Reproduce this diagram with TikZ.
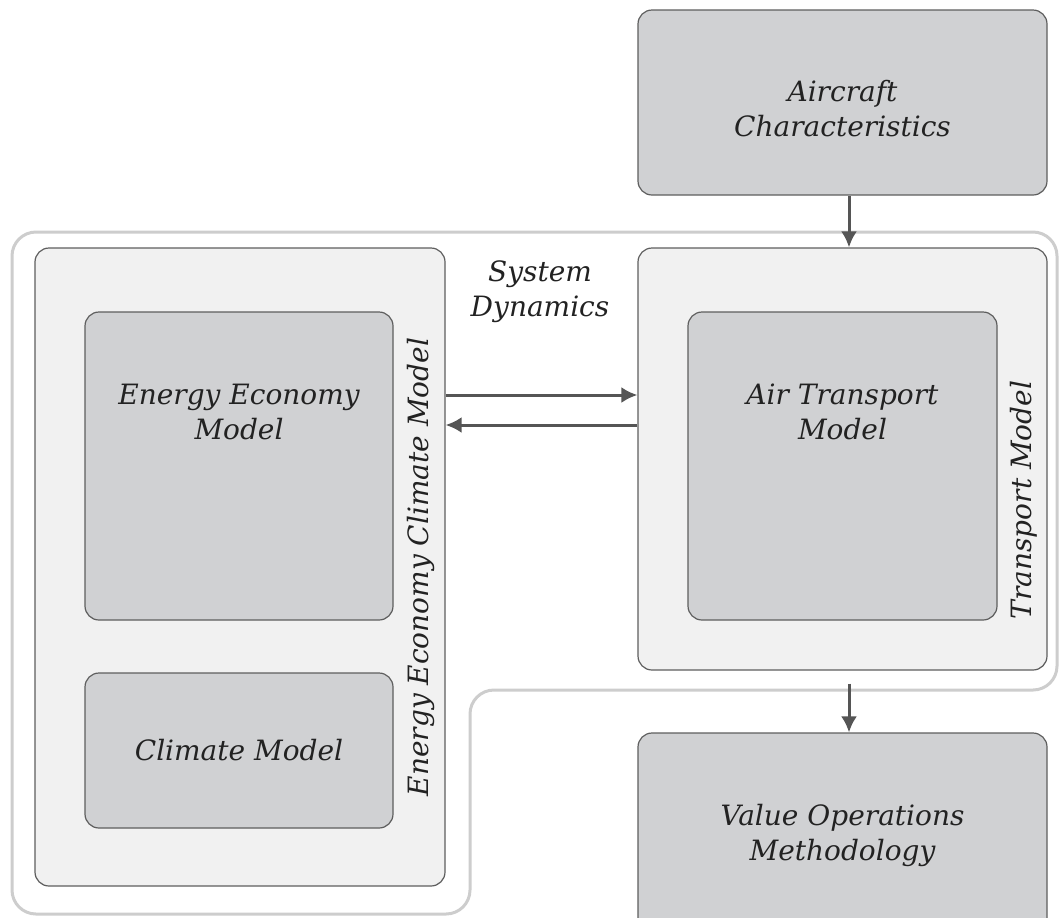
\documentclass[tikz,border=0pt]{standalone}
\usepackage{fontspec}
\setmainfont{DejaVu Serif}
\usetikzlibrary{calc}
\usetikzlibrary{arrows.meta}

\definecolor{boxdark}{HTML}{D0D1D3}
\definecolor{boxlight}{HTML}{F1F1F1}
\definecolor{boxedge}{HTML}{5E5E5E}
\definecolor{arrowgray}{HTML}{555555}
\definecolor{sysline}{HTML}{CDCDCD}
\definecolor{txtgray}{HTML}{222222}

\begin{document}
\begin{tikzpicture}[x=0.5pt,y=-0.5pt,
  every node/.style={font=\itshape\fontsize{14}{17.5}\selectfont, text=txtgray, align=center},
  box/.style={draw=boxedge, line width=0.6pt, rounded corners=7pt, inner sep=0pt},
  darkbox/.style={box, fill=boxdark},
  lightbox/.style={box, fill=boxlight},
  flow/.style={draw=arrowgray, line width=1.5pt, -{Latex[length=8pt,width=8pt]}}]
\useasboundingbox (0,0) rectangle (1059,917);
\clip (0,0) rectangle (1059,917);
% system dynamics outline
\draw[sysline, line width=1.5pt, rounded corners=12pt]
  (12,232) -- (1057,232) -- (1057,690) -- (470,690) -- (470,914) -- (12,914) -- cycle;
\node (sd) at (540,292) {System\\Dynamics};
% left side
\node[lightbox, minimum width=205pt, minimum height=319pt] (eec) at (240,567) {};
\node[darkbox, minimum width=154pt, minimum height=154pt] (eem) at (239,466) {};
\node[darkbox, minimum width=154pt, minimum height=77.5pt] (cm) at (239,750.5) {Climate Model};
\node (eemtxt) at (239,412) {Energy Economy\\Model};
\node[rotate=90] (eeclbl) at (421,567) {Energy Economy Climate Model};
% right side
\node[darkbox, minimum width=204.5pt, minimum height=92.5pt] (ac) at (842.5,102.5) {};
\node (actxt) at (842.5,109) {Aircraft\\Characteristics};
\node[lightbox, minimum width=204.5pt, minimum height=211pt] (tm) at (842.5,459) {};
\node[darkbox, minimum width=154.5pt, minimum height=154pt] (atm) at (842.5,466) {};
\node (atmtxt) at (842.5,412) {Air Transport\\Model};
\node[rotate=90] (tmlbl) at (1024,500) {Transport Model};
\node[darkbox, minimum width=204.5pt, minimum height=102pt] (vom) at (842.5,835) {Value Operations\\Methodology};
% connectors
\coordinate (vx) at (849,0);
\coordinate (ha) at (0,395);
\coordinate (hb) at (0,425);
\draw[flow] (ac.south -| vx) -- (tm.north -| vx);
\draw[flow, shorten <=6.5pt] (tm.south -| vx) -- (vom.north -| vx);
\draw[flow] (ha -| eec.east) -- (ha -| tm.west);
\draw[flow] (hb -| tm.west) -- (hb -| eec.east);
\end{tikzpicture}
\end{document}
